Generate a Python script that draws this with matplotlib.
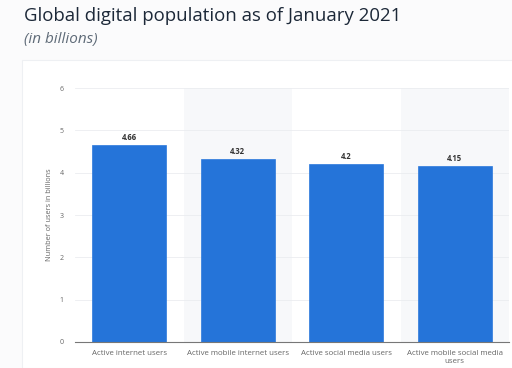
import matplotlib
matplotlib.use('Agg')
import numpy as np
from matplotlib import pyplot as plt
from matplotlib.patches import Rectangle

# data
categories = ['Active internet users', 'Active mobile internet users',
              'Active social media users', 'Active mobile social media\nusers']
users = [4.66, 4.32, 4.2, 4.15]
value_labels = ['4.66', '4.32', '4.2', '4.15']
yticks = [0, 1, 2, 3, 4, 5, 6]

plt.rcParams['font.family'] = ['Open Sans', 'DejaVu Sans']

fig = plt.figure(figsize=(5.12, 3.68), dpi=100)
fig.patch.set_facecolor('#fbfbfc')

# white card behind the chart
card = Rectangle((22 / 512, 0), 1, (368 - 60) / 368, transform=fig.transFigure,
                 facecolor='white', edgecolor='#eef0f3', linewidth=0.8, zorder=-1)
fig.patches.append(card)

fig.text(24 / 512, 1 - 16 / 368, 'Global digital population as of January 2021',
         fontsize=13.4, color='#1c2838', va='center', ha='left')
fig.text(24 / 512, 1 - 40 / 368, '(in billions)', fontsize=11, color='#5f6b78',
         style='italic', va='center', ha='left')

ax = fig.add_axes([75 / 512, 26 / 368, (509 - 75) / 512, (342 - 88) / 368])
ax.set_facecolor('white')

x = np.arange(len(categories))
for i in x:
    if i % 2 == 1:
        ax.axvspan(i - 0.5, i + 0.5, color='#f7f8fa', zorder=0, linewidth=0)

ax.bar(x, users, width=0.68, color='#2574d9', edgecolor='#2a78dc', linewidth=0.5, zorder=3)
for xi, v, lab in zip(x, users, value_labels):
    ax.text(xi, v + 0.07, lab, ha='center', va='bottom', fontsize=5.5,
            fontweight='bold', color='#333333', zorder=4)

ax.set_xlim(-0.5, 3.5)
ax.set_ylim(0, 6)
ax.set_yticks(yticks)
ax.set_xticks(x)
ax.set_xticklabels(categories, fontsize=5.7, color='#666666', linespacing=1.1)
ax.tick_params(axis='y', labelsize=5, colors='#666666', length=0, pad=8)
ax.tick_params(axis='x', length=0, pad=6)
ax.yaxis.grid(True, color='#ebedf0', linewidth=0.6, zorder=1)
ax.set_axisbelow(True)
for s in ['top', 'right', 'left']:
    ax.spines[s].set_visible(False)
ax.spines['bottom'].set_color('#777777')
ax.spines['bottom'].set_linewidth(0.8)
ax.spines['bottom'].set_zorder(5)
ax.set_ylabel('Number of users in billions', fontsize=5.3, color='#666666', labelpad=5)

fig.savefig('out.png', dpi=100, facecolor=fig.get_facecolor())
